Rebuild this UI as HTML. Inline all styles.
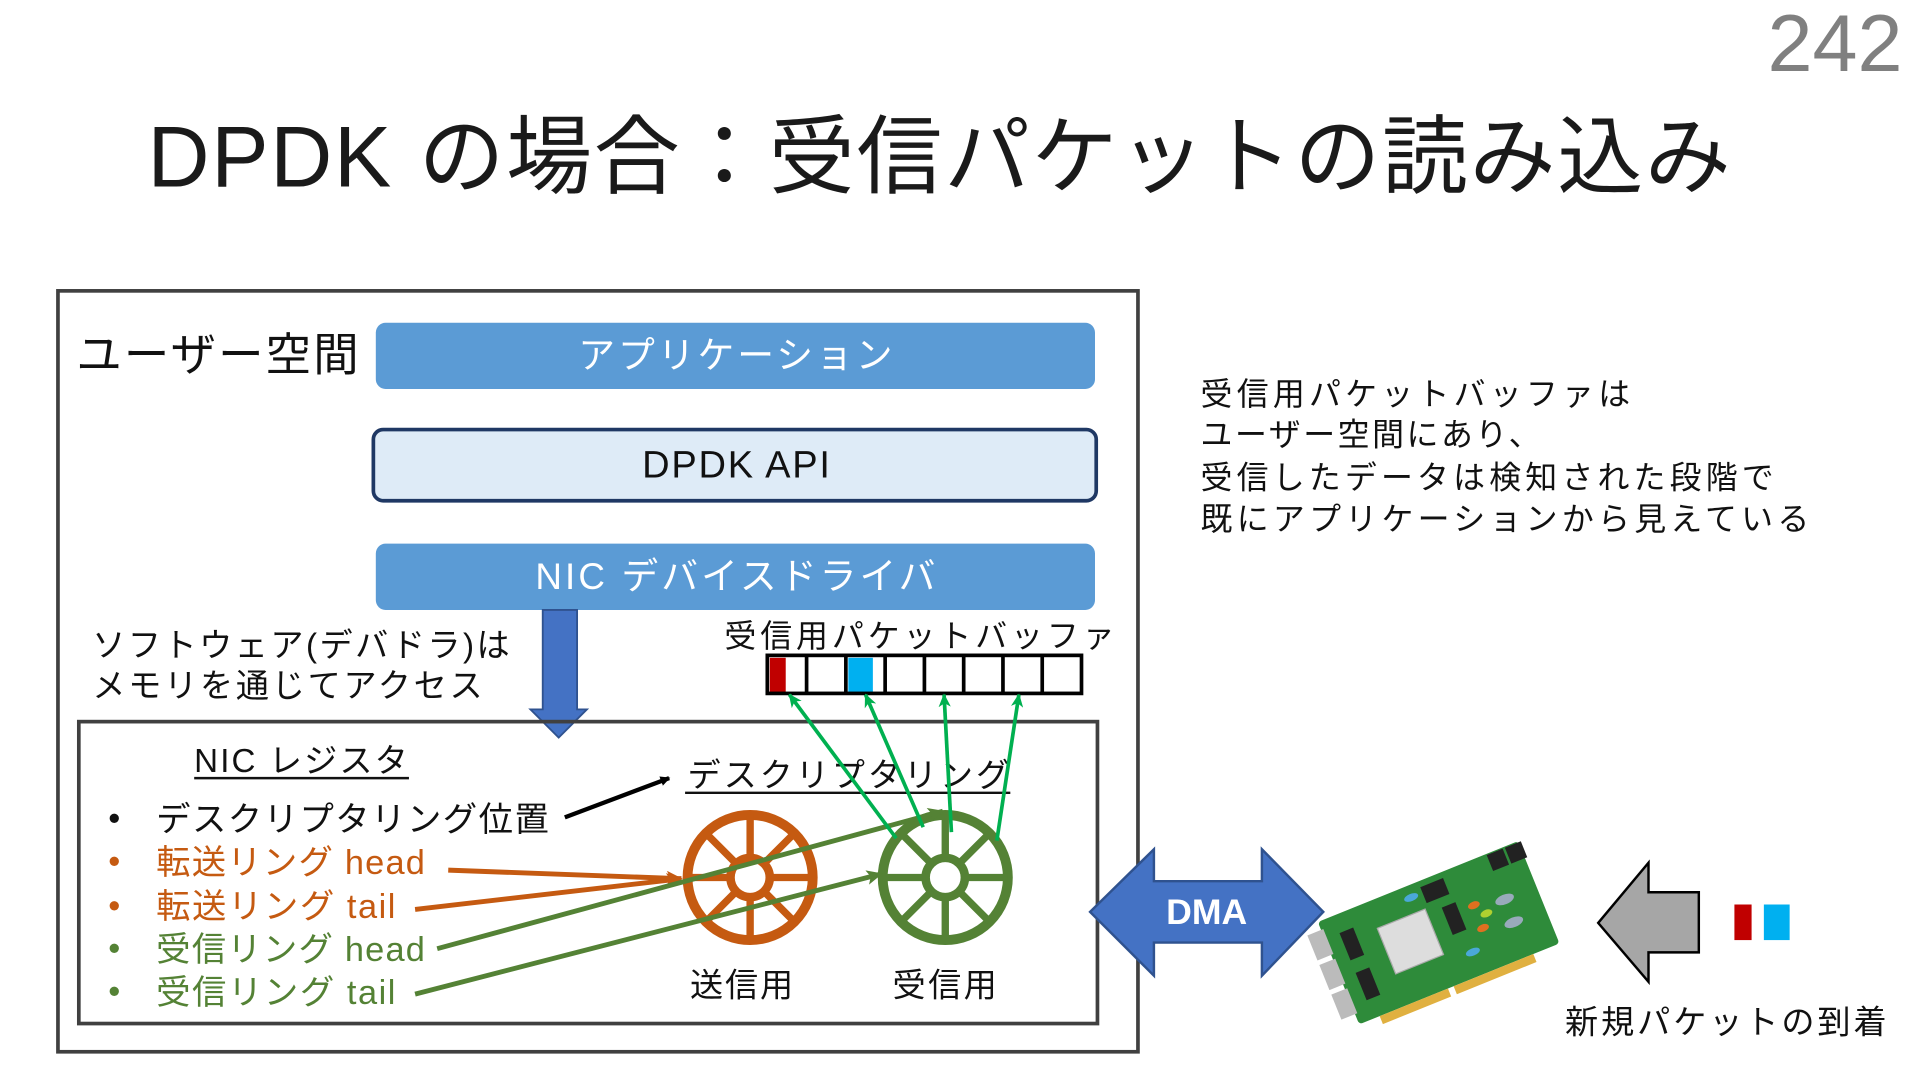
<!DOCTYPE html>
<html><head><meta charset="utf-8"><style>
html,body{margin:0;padding:0;background:#fff;}
svg{display:block;}
text{font-family:"Liberation Sans","Noto Sans CJK JP",sans-serif;}
</style></head><body>
<svg width="1920" height="1080" viewBox="0 0 1564 880" xmlns="http://www.w3.org/2000/svg">
<defs>
<marker id="ab" markerWidth="8" markerHeight="8" refX="7" refY="4" orient="auto" markerUnits="userSpaceOnUse"><path d="M0,0 L8,4 L0,8 z" fill="#000"/></marker>
<marker id="ao" markerWidth="14" markerHeight="12" refX="12" refY="6" orient="auto" markerUnits="userSpaceOnUse"><path d="M0,0 L13,6 L0,12 L3,6 z" fill="#c55a11"/></marker>
<marker id="ag" markerWidth="14" markerHeight="12" refX="12" refY="6" orient="auto" markerUnits="userSpaceOnUse"><path d="M0,0 L13,6 L0,12 L3,6 z" fill="#548235"/></marker>
<marker id="aG" markerWidth="12" markerHeight="10" refX="10" refY="5" orient="auto" markerUnits="userSpaceOnUse"><path d="M0,0 L11,5 L0,10 L3,5 z" fill="#00b050"/></marker>
</defs>
<text x="1440" y="58" font-size="66" fill="#808080" textLength="110" lengthAdjust="spacingAndGlyphs">242</text>
<text x="120" y="152" font-size="70" fill="#1a1a1a" textLength="1290" lengthAdjust="spacing">DPDK の場合：受信パケットの読み込み</text>

<rect x="47" y="237" width="880" height="620" fill="none" stroke="#404040" stroke-width="3"/>
<text x="62" y="302" font-size="37" fill="#111" textLength="230" lengthAdjust="spacing">ユーザー空間</text>
<rect x="306" y="263" width="586" height="54" rx="8" fill="#5b9bd5"/>
<text x="471" y="300" font-size="30" fill="#fff" textLength="256" lengthAdjust="spacing">アプリケーション</text>
<rect x="304" y="350" width="589" height="58" rx="8" fill="#deebf7" stroke="#1f3864" stroke-width="3"/>
<text x="523" y="389" font-size="31" fill="#111" textLength="153" lengthAdjust="spacing">DPDK API</text>
<rect x="306" y="443" width="586" height="54" rx="8" fill="#5b9bd5"/>
<text x="436" y="480" font-size="30" fill="#fff" textLength="326" lengthAdjust="spacing">NIC デバイスドライバ</text>

<path d="M442,497 H470 V578 H478 L455,601 L432,578 H442 Z" fill="#4472c4" stroke="#2f528f" stroke-width="1.5"/>
<text x="75" y="535" font-size="27" fill="#111" textLength="340" lengthAdjust="spacing">ソフトウェア(デバドラ)は</text>
<text x="75" y="568" font-size="27" fill="#111" textLength="318" lengthAdjust="spacing">メモリを通じてアクセス</text>
<text x="590" y="527" font-size="26" fill="#111" textLength="318" lengthAdjust="spacing">受信用パケットバッファ</text>
<rect x="627" y="536" width="13" height="28" fill="#c00000"/>
<rect x="691" y="536" width="20" height="28" fill="#00b0f0"/>
<g stroke="#000" stroke-width="3" fill="none">
<rect x="625" y="534" width="256" height="31"/>
<line x1="657" y1="534" x2="657" y2="565"/><line x1="689" y1="534" x2="689" y2="565"/>
<line x1="721" y1="534" x2="721" y2="565"/><line x1="753" y1="534" x2="753" y2="565"/>
<line x1="785" y1="534" x2="785" y2="565"/><line x1="817" y1="534" x2="817" y2="565"/>
<line x1="849" y1="534" x2="849" y2="565"/>
</g>

<rect x="64" y="588" width="830" height="246" fill="none" stroke="#404040" stroke-width="3"/>
<text x="158" y="629" font-size="27" fill="#111" textLength="174" lengthAdjust="spacing">NIC レジスタ</text>
<line x1="158" y1="634" x2="333" y2="634" stroke="#111" stroke-width="2"/>
<text x="560" y="641" font-size="27" fill="#111" textLength="262" lengthAdjust="spacing">デスクリプタリング</text>
<line x1="558" y1="646" x2="823" y2="646" stroke="#111" stroke-width="2"/>

<g font-size="28">
<text x="88" y="676" fill="#111">•</text><text x="127" y="677" fill="#111" textLength="320" lengthAdjust="spacing">デスクリプタリング位置</text>
<text x="88" y="711" fill="#c55a11">•</text><text x="127" y="712" fill="#c55a11" textLength="219" lengthAdjust="spacing">転送リング head</text>
<text x="88" y="747" fill="#c55a11">•</text><text x="127" y="748" fill="#c55a11" textLength="195" lengthAdjust="spacing">転送リング tail</text>
<text x="88" y="782" fill="#548235">•</text><text x="127" y="783" fill="#548235" textLength="219" lengthAdjust="spacing">受信リング head</text>
<text x="88" y="817" fill="#548235">•</text><text x="127" y="818" fill="#548235" textLength="195" lengthAdjust="spacing">受信リング tail</text>
</g>
<line x1="460" y1="666" x2="545" y2="634" stroke="#000" stroke-width="3.5" marker-end="url(#ab)"/>

<g stroke="#c55a11" fill="none" stroke-width="8">
<circle cx="611" cy="715" r="51"/><circle cx="611" cy="715" r="16" stroke-width="7"/>
<path d="M611,664 V699 M611,731 V766 M560,715 H595 M627,715 H662 M575,679 L600,704 M622,726 L647,751 M647,679 L622,704 M600,726 L575,751" stroke-width="6"/>
</g>
<g stroke="#548235" fill="none" stroke-width="8">
<circle cx="770" cy="715" r="51"/><circle cx="770" cy="715" r="16" stroke-width="7"/>
<path d="M770,664 V699 M770,731 V766 M719,715 H754 M786,715 H821 M734,679 L759,704 M781,726 L806,751 M806,679 L781,704 M759,726 L734,751" stroke-width="6"/>
</g>
<line x1="365" y1="709" x2="555" y2="716" stroke="#c55a11" stroke-width="4" marker-end="url(#ao)"/>
<line x1="338" y1="741" x2="555" y2="716" stroke="#c55a11" stroke-width="4" marker-end="url(#ao)"/>
<line x1="356" y1="773" x2="768" y2="661" stroke="#548235" stroke-width="4" marker-end="url(#ag)"/>
<line x1="338" y1="810" x2="718" y2="712" stroke="#548235" stroke-width="4" marker-end="url(#ag)"/>
<g stroke="#00b050" stroke-width="3">
<line x1="730" y1="683" x2="643" y2="566" marker-end="url(#aG)"/>
<line x1="752" y1="674" x2="705" y2="566" marker-end="url(#aG)"/>
<line x1="775" y1="678" x2="769" y2="566" marker-end="url(#aG)"/>
<line x1="812" y1="685" x2="830" y2="566" marker-end="url(#aG)"/>
</g>
<text x="562" y="812" font-size="27" fill="#111" textLength="84" lengthAdjust="spacing">送信用</text>
<text x="727" y="812" font-size="27" fill="#111" textLength="85" lengthAdjust="spacing">受信用</text>

<path d="M888,743 L940,692 V718 H1028 V692 L1078,743 L1028,795 V768 H940 V795 Z" fill="#4472c4" stroke="#2f528f" stroke-width="2"/>
<text x="983" y="753" font-size="29" font-weight="bold" fill="#fff" text-anchor="middle">DMA</text>

<g transform="translate(1172,760) rotate(-22)">
<rect x="-88" y="-45" width="176" height="90" rx="3" fill="#2e8b3a"/>
<rect x="-70" y="45" width="60" height="7" fill="#e0b040"/>
<rect x="-5" y="45" width="70" height="7" fill="#e0b040"/>
<rect x="-100" y="-38" width="14" height="22" fill="#bbb"/>
<rect x="-100" y="-12" width="14" height="22" fill="#bbb"/>
<rect x="-100" y="14" width="14" height="22" fill="#bbb"/>
<rect x="-45" y="-22" width="42" height="40" fill="#ddd" stroke="#aaa"/>
<rect x="-75" y="-30" width="12" height="24" fill="#222"/>
<rect x="-75" y="5" width="12" height="24" fill="#222"/>
<rect x="0" y="-40" width="20" height="14" fill="#222"/>
<rect x="10" y="-18" width="12" height="24" fill="#222"/>
<rect x="60" y="-44" width="14" height="14" fill="#222"/>
<rect x="76" y="-44" width="14" height="14" fill="#222"/>
<ellipse cx="35" cy="-10" rx="5" ry="3" fill="#e07020"/>
<ellipse cx="42" cy="0" rx="5" ry="3" fill="#b0d030"/>
<ellipse cx="35" cy="10" rx="5" ry="3" fill="#e07020"/>
<ellipse cx="60" cy="-5" rx="8" ry="4" fill="#9ab"/>
<ellipse cx="60" cy="15" rx="8" ry="4" fill="#9ab"/>
<ellipse cx="20" cy="25" rx="6" ry="3" fill="#4aa8d8"/>
<ellipse cx="-10" cy="-35" rx="6" ry="3" fill="#4aa8d8"/>
</g>

<path d="M1302,752 L1343,703 V727 H1384 V776 H1343 V800 Z" fill="#a6a6a6" stroke="#000" stroke-width="2"/>
<rect x="1413" y="737" width="14" height="29" fill="#c00000"/>
<rect x="1437" y="737" width="21" height="29" fill="#00b0f0"/>
<text x="1275" y="842" font-size="27" fill="#111" textLength="262" lengthAdjust="spacing">新規パケットの到着</text>

<g font-size="26" fill="#111">
<text x="978" y="330" textLength="350" lengthAdjust="spacing">受信用パケットバッファは</text>
<text x="978" y="363" textLength="277" lengthAdjust="spacing">ユーザー空間にあり、</text>
<text x="978" y="398" textLength="467" lengthAdjust="spacing">受信したデータは検知された段階で</text>
<text x="978" y="432" textLength="496" lengthAdjust="spacing">既にアプリケーションから見えている</text>
</g>
</svg>
</body></html>
